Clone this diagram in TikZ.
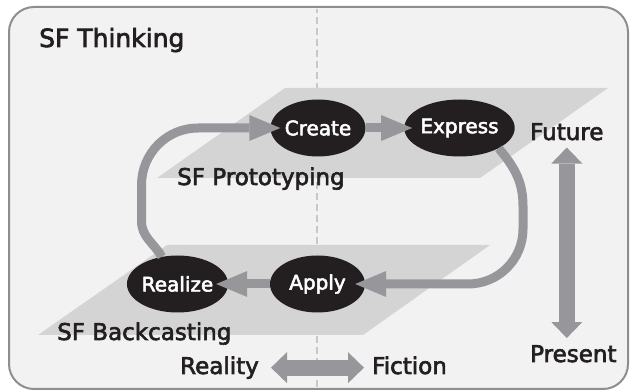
\documentclass[tikz,border=0pt]{standalone}
\usepackage{fontspec}
\setmainfont{DejaVu Sans}
\newfontfamily\sflabel{DejaVu Sans}[FakeBold=2.6]
\usepackage{tikz}
\usetikzlibrary{arrows.meta,positioning,shapes.geometric}
\definecolor{sfpanel}{HTML}{F2F2F2}
\definecolor{sfframe}{HTML}{8E8E8E}
\definecolor{sfplane}{HTML}{D4D4D5}
\definecolor{sfarrow}{HTML}{97979B}
\definecolor{sfink}{HTML}{231F20}
\definecolor{sfdash}{HTML}{C8C8C8}

\begin{document}
\begin{tikzpicture}[x=1pt, y=1pt,
  stage/.style={ellipse, fill=sfink, text=white, minimum width=95pt, minimum height=57pt, inner sep=0pt, font=\sflabel\fontsize{20}{24}\selectfont},
  tag/.style={anchor=base west, inner sep=0pt, text=sfink, font=\sflabel\fontsize{23}{27}\selectfont},
  flow/.style={draw=sfarrow, line width=9pt, -{Triangle[length=31pt, width=26pt, line width=0pt]}},
  twoway/.style={draw=sfarrow, line width=16pt, {Triangle[length=16pt, width=31pt, line width=0pt]}-{Triangle[length=16pt, width=31pt, line width=0pt]}}]
  \useasboundingbox (0,0) rectangle (630,391);
  \draw[sfframe, line width=2pt, fill=sfpanel, rounded corners=25pt] (9,2) rectangle (628,384);
  \draw[sfdash, line width=1.8pt, dash pattern=on 7pt off 4pt] (317,4) -- (317,382);
  % the two planes
  \fill[sfplane] (157,213) -- (480,213) -- (608,303) -- (285,303) -- cycle;
  \fill[sfplane] (38,56) -- (363,56) -- (490,146) -- (167,146) -- cycle;

  \node[tag, font=\sflabel\fontsize{25}{30}\selectfont] (title) at (39,344) {SF Thinking};
  \node[tag] (proto) at (177,206) {SF Prototyping};
  \node[tag] (back) at (57,51) {SF Backcasting};
  \node[tag] (future) at (530,251) {Future};
  \node[tag] (present) at (530,29) {Present};
  \node[tag] (reality) at (180,17) {Reality};
  \node[tag] (fiction) at (372,17) {Fiction};

  \node[stage] (create) at (318,263) {Create};
  \node[stage] (express) at (459.5,263) {Express};
  \node[stage] (realize) at (177.5,107) {Realize};
  \node[stage] (apply) at (317.5,107) {Apply};

  \draw[flow, shorten >=-8pt] (create.east) -- (express.west);
  \draw[flow, shorten >=-12pt] (apply.west) -- (realize.east);
  \draw[flow, shorten >=-10pt] (express.south east) to[out=-50, in=90] (523,185) -- (523,162) to[out=-90, in=0] (468,107) -- (apply.east);
  \draw[flow, shorten >=-10pt] (realize.120) to[out=120, in=-90] (141.5,170) -- (141.5,206) to[out=90, in=180] (198,263) -- (create.west);

  \draw[twoway, shorten <=7pt, shorten >=7pt] (future.south) -- (future.south |- present.north);
  \draw[twoway, shorten <=12pt, shorten >=8pt] (reality.east) -- (fiction.west |- reality.east);
\end{tikzpicture}
\end{document}
